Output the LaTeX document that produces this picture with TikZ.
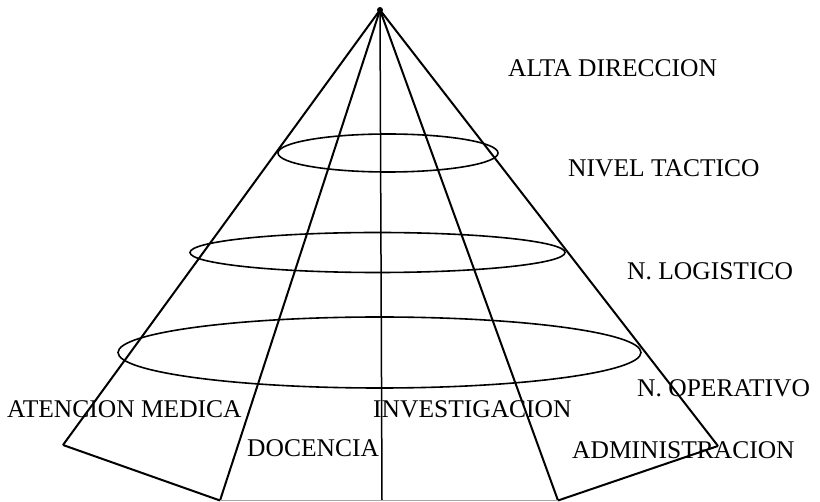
\documentclass[tikz,border=0pt]{standalone}
\usepackage{fontspec}
\setmainfont{Liberation Serif}
\begin{document}
\begin{tikzpicture}[x=1pt,y=-1pt,
  ray/.style={line width=2pt,line join=round},
  ring/.style={line width=1.6pt},
  lbl/.style={anchor=base west,inner sep=0pt,font=\fontsize{25.5}{25.5}\selectfont}]
  \useasboundingbox (0,0) rectangle (820,502);

  % apex and base corners of the pyramid
  \coordinate (apex) at (380,10);
  \coordinate (bl)   at (63,445);
  \coordinate (b2)   at (220,500.5);
  \coordinate (b3)   at (382,500.5);
  \coordinate (b4)   at (558,500.5);
  \coordinate (br)   at (718,446);

  % level rings
  \draw[ring] (388,153) ellipse [x radius=110, y radius=19];
  \draw[ring] (377.5,252.5) ellipse [x radius=187.5, y radius=20];
  \draw[ring] (379.5,352.5) ellipse [x radius=261.5, y radius=35.5];

  % edges from the apex
  \draw[ray] (apex) -- (bl);
  \draw[ray] (apex) -- (b2);
  \draw[line width=1.5pt] (apex) -- (b3);
  \draw[ray] (apex) -- (b4);
  \draw[ray] (apex) -- (br);

  % base
  \draw[ray] (bl) -- (b2);
  \draw[ray] (b4) -- (br);
  \draw[line width=1.2pt,gray!70] (b2) -- (b4);

  \fill (apex) circle (3);

  % level labels
  \node[lbl] (alta) at (508,77)  {ALTA DIRECCION};
  \node[lbl] (tact) at (568,177) {NIVEL TACTICO};
  \node[lbl] (logi) at (627,280) {N. LOGISTICO};
  \node[lbl] (oper) at (637,397) {N. OPERATIVO};

  % area labels
  \node[lbl] (aten) at (7,418)   {ATENCION MEDICA};
  \node[lbl] (inve) at (373,418) {INVESTIGACION};
  \node[lbl] (doce) at (247,457) {DOCENCIA};
  \node[lbl] (admi) at (572,459) {ADMINISTRACION};
\end{tikzpicture}
\end{document}
